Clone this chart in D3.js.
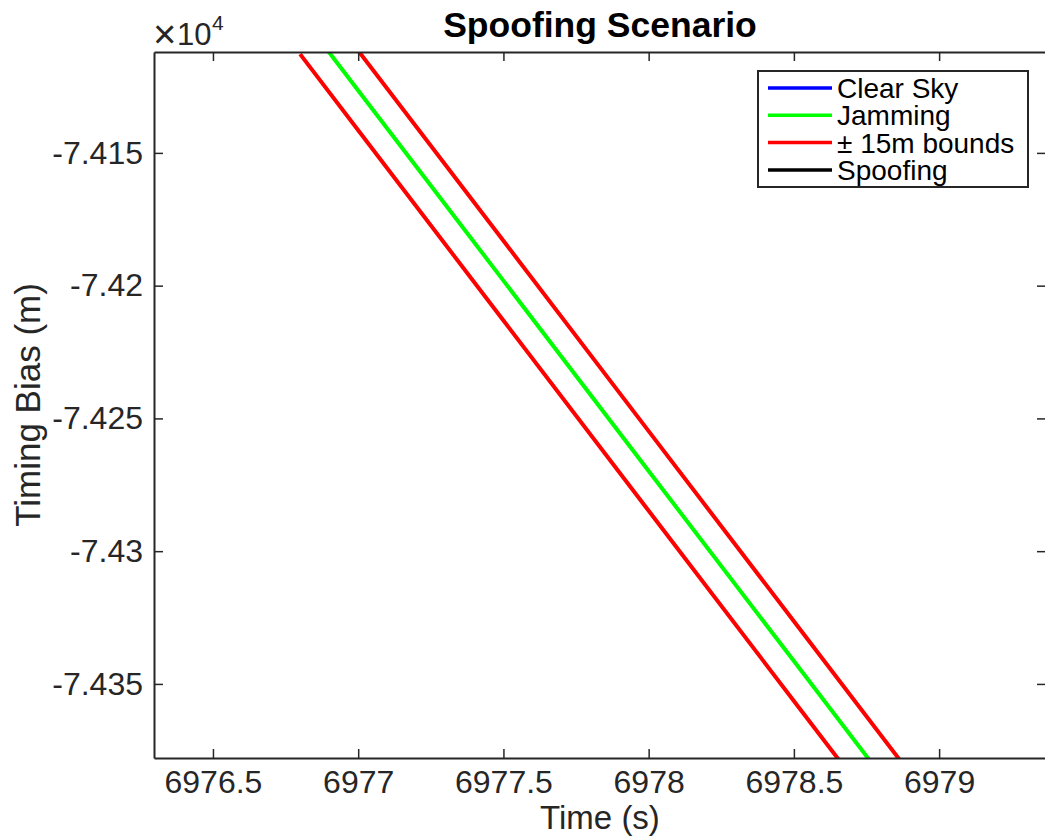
<!DOCTYPE html>
<html>
<head>
<meta charset="utf-8">
<script src="https://cdn.jsdelivr.net/npm/d3@7"></script>
<style>
  html, body { margin: 0; padding: 0; background: #fff; }
  svg { display: block; font-family: "Liberation Sans", Arial, Helvetica, sans-serif; }
</style>
</head>
<body>
<svg id="chart" width="1045" height="839"></svg>
<script>
// Jamming timing-bias trace (time in s, bias in m)
const jamTime = [6976.8, 6977.0, 6977.5, 6978.0, 6978.5, 6978.9];
const jamBias = [-74097.8, -74126.5, -74198.1, -74269.8, -74341.4, -74398.7];
// Half-width of the bounds around the jamming trace (m)
const boundWidth = 15;

const xTicks = [6976.5, 6977, 6977.5, 6978, 6978.5, 6979];
const yTicks = [-74350, -74300, -74250, -74200, -74150];

const legendLabels = ["Clear Sky", "Jamming", "\u00B1 15m bounds", "Spoofing"];
const legendColors = ["#0000ff", "#00ff00", "#ff0000", "#000000"];

const svg = d3.select("#chart");
const plot = { left: 154, right: 1046, top: 52, bottom: 758 };
const axisColor = "#262626";
const fontFam = "'Liberation Sans', Arial, Helvetica, sans-serif";

const x = d3.scaleLinear().domain([6976.297, 6979.368]).range([plot.left, plot.right]);
const y = d3.scaleLinear().domain([-74377.9, -74112.0]).range([plot.bottom, plot.top]);

svg.append("defs").append("clipPath").attr("id", "plotClip")
  .append("rect")
  .attr("x", plot.left).attr("y", plot.top)
  .attr("width", plot.right - plot.left).attr("height", plot.bottom - plot.top);

const jam = jamTime.map((t, i) => ({ t, v: jamBias[i] }));
const lower = jam.map(d => ({ t: d.t, v: d.v - boundWidth }));
const upper = jam.map(d => ({ t: d.t, v: d.v + boundWidth }));

const line = d3.line().x(d => x(d.t)).y(d => y(d.v));
const g = svg.append("g").attr("clip-path", "url(#plotClip)");
[[lower, "#ff0000"], [jam, "#00ff00"], [upper, "#ff0000"]].forEach(([data, col]) => {
  g.append("path").datum(data)
    .attr("d", line)
    .attr("fill", "none")
    .attr("stroke", col)
    .attr("stroke-width", 4);
});

// Axes: ticks point inward on all four sides
function styleAxis(sel) {
  sel.select(".domain").attr("stroke", axisColor).attr("stroke-width", 2);
  sel.selectAll(".tick line").attr("stroke", axisColor).attr("stroke-width", 1.5);
  sel.selectAll(".tick text").attr("fill", axisColor)
    .attr("font-size", 32).attr("font-family", fontFam);
}

svg.append("g").attr("transform", `translate(0,${plot.bottom})`)
  .call(d3.axisBottom(x).tickValues(xTicks).tickSizeInner(-9).tickSizeOuter(0)
    .tickPadding(12).tickFormat(d => String(d)))
  .call(styleAxis);
svg.append("g").attr("transform", `translate(0,${plot.top})`)
  .call(d3.axisTop(x).tickValues(xTicks).tickSizeInner(-9).tickSizeOuter(0).tickFormat(""))
  .call(styleAxis);
svg.append("g").attr("transform", `translate(${plot.left},0)`)
  .call(d3.axisLeft(y).tickValues(yTicks).tickSizeInner(-9).tickSizeOuter(0)
    .tickPadding(11).tickFormat(d => String(+(d / 1e4).toFixed(4))))
  .call(styleAxis);
svg.append("g").attr("transform", `translate(${plot.right},0)`)
  .call(d3.axisRight(y).tickValues(yTicks).tickSizeInner(-9).tickSizeOuter(0).tickFormat(""))
  .call(styleAxis);

// Exponent marker for the y axis
const expoG = svg.append("g").attr("fill", axisColor).attr("font-family", fontFam);
expoG.append("text").attr("x", 153).attr("y", 48).attr("font-size", 40)
  .attr("font-weight", 300).text("\u00D7");
expoG.append("text").attr("x", 177).attr("y", 45).attr("font-size", 31).text("10");
expoG.append("text").attr("x", 212).attr("y", 30).attr("font-size", 21).text("4");

// Title and axis labels
svg.append("text").attr("x", (plot.left + plot.right) / 2).attr("y", 37)
  .attr("text-anchor", "middle").attr("font-size", 35.5).attr("font-weight", "bold")
  .attr("fill", "#000").text("Spoofing Scenario");
svg.append("text").attr("x", (plot.left + plot.right) / 2).attr("y", 829)
  .attr("text-anchor", "middle").attr("font-size", 33).attr("fill", axisColor)
  .text("Time (s)");
svg.append("text")
  .attr("transform", `translate(40,${(plot.top + plot.bottom) / 2}) rotate(-90)`)
  .attr("text-anchor", "middle").attr("font-size", 35).attr("fill", axisColor)
  .text("Timing Bias (m)");

// Legend
const leg = svg.append("g").attr("transform", "translate(758,71)");
leg.append("rect").attr("width", 270).attr("height", 116)
  .attr("fill", "#fff").attr("stroke", axisColor).attr("stroke-width", 2);
legendLabels.forEach((lab, i) => {
  const cy = 17 + i * 27.3;
  leg.append("line").attr("x1", 10).attr("x2", 74).attr("y1", cy).attr("y2", cy)
    .attr("stroke", legendColors[i]).attr("stroke-width", 3.5);
  leg.append("text").attr("x", 79).attr("y", cy + 10).attr("font-size", 28)
    .attr("fill", "#000").text(lab);
});
</script>
</body>
</html>
